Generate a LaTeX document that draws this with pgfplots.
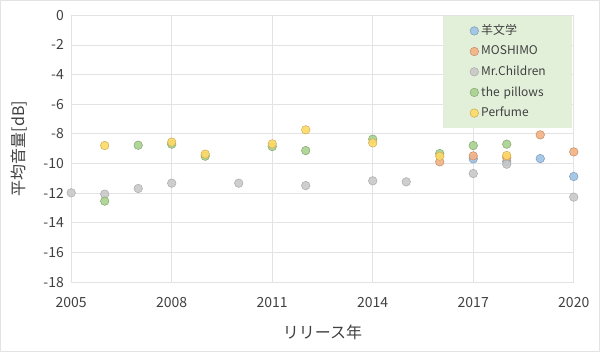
\documentclass[border=0pt]{standalone}
\usepackage{fontspec}
\setmainfont{Noto Sans CJK JP}
\usepackage{pgfplots}
\pgfplotsset{compat=1.18}
\definecolor{cblue}{HTML}{9DC3E6}
\definecolor{corange}{HTML}{F4B183}
\definecolor{cgray}{HTML}{C9C9C9}
\definecolor{cgreen}{HTML}{A9D18E}
\definecolor{cyellow}{HTML}{FFD966}
\definecolor{legbg}{HTML}{E2F0D9}
\definecolor{gridc}{HTML}{E3E3E3}
\definecolor{txt}{HTML}{404040}
\begin{document}
\begin{tikzpicture}
\draw[gridc] (-53.25pt,-51.75pt) rectangle (396.75pt,211.5pt);
\begin{axis}[
  scale only axis,
  width=377.25pt, height=200.25pt,
  xmin=2005, xmax=2020, ymin=-18, ymax=0,
  xtick={2005,2008,...,2020},
  ytick={-18,-16,...,0},
  grid=major,
  grid style={gridc, line width=0.6pt},
  axis line style={gridc},
  major tick length=0pt,
  /pgf/number format/assume math mode=true,
  /pgf/number format/1000 sep={},
  tick label style={font=\fontsize{10.5}{12}\selectfont, text=txt},
  xticklabel style={yshift=-8pt},
  yticklabel style={xshift=-2pt},
  xlabel={リリース年},
  ylabel={平均音量[dB]},
  label style={font=\fontsize{12}{14}\selectfont, text=txt},
  xlabel style={yshift=-6pt},
  ylabel style={yshift=5pt},
  legend style={at={(0.998,1)}, anchor=north east, draw=none, fill=legbg,
    font=\fontsize{9}{10.5}\selectfont, text=txt,
    inner xsep=20.5pt, inner ysep=5pt, row sep=2.8pt,
    text width=46pt},
  legend cell align=left,
  every axis plot/.append style={only marks, mark=*, mark size=3.2pt, fill opacity=0.9},
]
\addplot[mark options={fill=cblue, draw=cblue!80!black}] coordinates {
 (2017,-9.69) (2018,-9.87) (2019,-9.67) (2020,-10.88)};
\addlegendentry{\mbox{羊文学}}
\addplot[mark options={fill=corange, draw=corange!80!black}] coordinates {
 (2016,-9.89) (2017,-9.49) (2018,-9.6) (2019,-8.07) (2020,-9.22)};
\addlegendentry{\mbox{MOSHIMO}}
\addplot[mark options={fill=cgray, draw=cgray!85!black}] coordinates {
 (2005,-11.98) (2006,-12.07) (2007,-11.69) (2008,-11.33) (2010,-11.33)
 (2012,-11.49) (2014,-11.17) (2015,-11.24) (2017,-10.68) (2018,-10.05) (2020,-12.27)};
\addlegendentry{\mbox{Mr.Children}}
\addplot[mark options={fill=cgreen, draw=cgreen!80!black}] coordinates {
 (2006,-12.54) (2007,-8.77) (2008,-8.7) (2009,-9.51) (2011,-8.86) (2012,-9.13)
 (2014,-8.36) (2016,-9.33) (2017,-8.79) (2018,-8.7)};
\addlegendentry{\mbox{the pillows}}
\addplot[mark options={fill=cyellow, draw=cyellow!80!black}] coordinates {
 (2006,-8.79) (2008,-8.56) (2009,-9.37) (2011,-8.68) (2012,-7.73)
 (2014,-8.61) (2016,-9.51) (2018,-9.46)};
\addlegendentry{\mbox{Perfume}}
\end{axis}
\end{tikzpicture}
\end{document}
